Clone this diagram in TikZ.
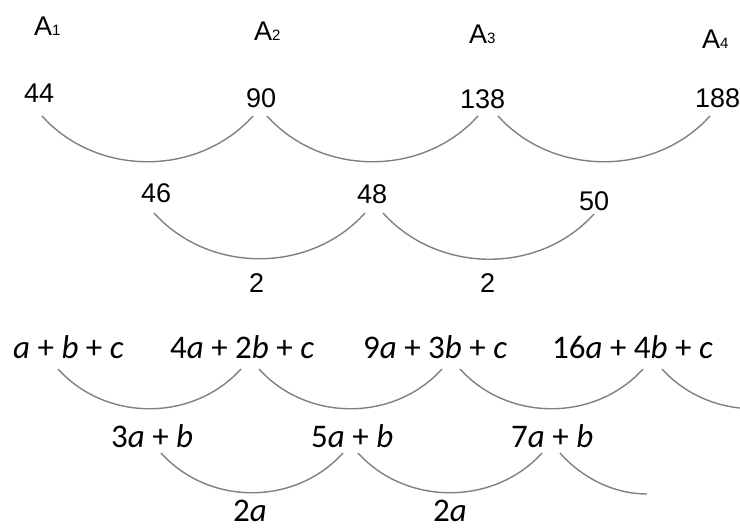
\documentclass[tikz,border=0pt]{standalone}
\usepackage{fontspec}
\newfontfamily\arialf{Liberation Sans}
\newfontfamily\calf{Carlito}
\definecolor{arcgray}{RGB}{128,128,128}
\begin{document}
\begin{tikzpicture}[x=1pt,y=-1pt,
  num/.style={font=\arialf\fontsize{27}{27}\selectfont, inner sep=0pt, anchor=base west},
  alg/.style={font=\calf\fontsize{33}{33}\selectfont, inner sep=0pt, anchor=base west},
  arcline/.style={draw=arcgray, line width=1.4pt}]
\clip (0,0) rectangle (740,528);
\fill[white] (0,0) rectangle (740,528);
% top labels
\newcommand{\Asub}[1]{A{\fontsize{15}{15}\selectfont #1}}
\node[num] (A1) at (34,35) {\Asub{1}};
\node[num] (A2) at (254,40) {\Asub{2}};
\node[num] (A3) at (469,43) {\Asub{3}};
\node[num] (A4) at (702,48) {\Asub{4}};
\node[num] (n44) at (24,102) {44};
\node[num] (n90) at (246,107) {90};
\node[num] (n138) at (460,108) {138};
\node[num] (n188) at (695,107) {188};
\node[num] (n46) at (141,202) {46};
\node[num] (n48) at (357,203) {48};
\node[num] (n50) at (579,210) {50};
\node[num] (d1) at (249,292) {2};
\node[num] (d2) at (480,292) {2};
% top arcs
\coordinate (t1a) at (42,116); \coordinate (t1b) at (253,116);
\coordinate (t2a) at (267,116); \coordinate (t2b) at (478,116);
\coordinate (t3a) at (498,116); \coordinate (t3b) at (710,116);
\coordinate (s1a) at (154,213); \coordinate (s1b) at (365,213);
\coordinate (s2a) at (383,213); \coordinate (s2b) at (594,214);
\foreach \p/\q in {t1a/t1b,t2a/t2b,t3a/t3b,s1a/s1b,s2a/s2b}
  \draw[arcline] (\p) .. controls +(55,61) and +(-55,61) .. (\q);
% bottom labels
\node[alg] (e1) at (13,358) {\textit{a} + \textit{b} + \textit{c}};
\node[alg] (e2) at (170,358) {4\textit{a} + 2\textit{b} + \textit{c}};
\node[alg] (e3) at (363,358) {9\textit{a} + 3\textit{b} + \textit{c}};
\node[alg] (e4) at (552,358) {16\textit{a} + 4\textit{b} + \textit{c}};
\node[alg] (f1) at (111,447) {3\textit{a} + \textit{b}};
\node[alg] (f2) at (311,447) {5\textit{a} + \textit{b}};
\node[alg] (f3) at (511,447) {7\textit{a} + \textit{b}};
\node[alg] (g1) at (233,521) {2\textit{a}};
\node[alg] (g2) at (433,521) {2\textit{a}};
% bottom arcs
\coordinate (u1a) at (58,369); \coordinate (u1b) at (241,369);
\coordinate (u2a) at (259,369); \coordinate (u2b) at (442,369);
\coordinate (u3a) at (460,369); \coordinate (u3b) at (643,369);
\coordinate (u4a) at (662,369); \coordinate (u4b) at (845,369);
\coordinate (v1a) at (161,453); \coordinate (v1b) at (343,453);
\coordinate (v2a) at (358,453); \coordinate (v2b) at (542,453);
\coordinate (v3a) at (560,453); \coordinate (v3b) at (647,494);
\foreach \p/\q in {u1a/u1b,u2a/u2b,u3a/u3b,u4a/u4b,v1a/v1b,v2a/v2b}
  \draw[arcline] (\p) .. controls +(48,53) and +(-48,53) .. (\q);
\draw[arcline] (v3a) .. controls +(22,25) and +(-33,0) .. (v3b);
\end{tikzpicture}
\end{document}
